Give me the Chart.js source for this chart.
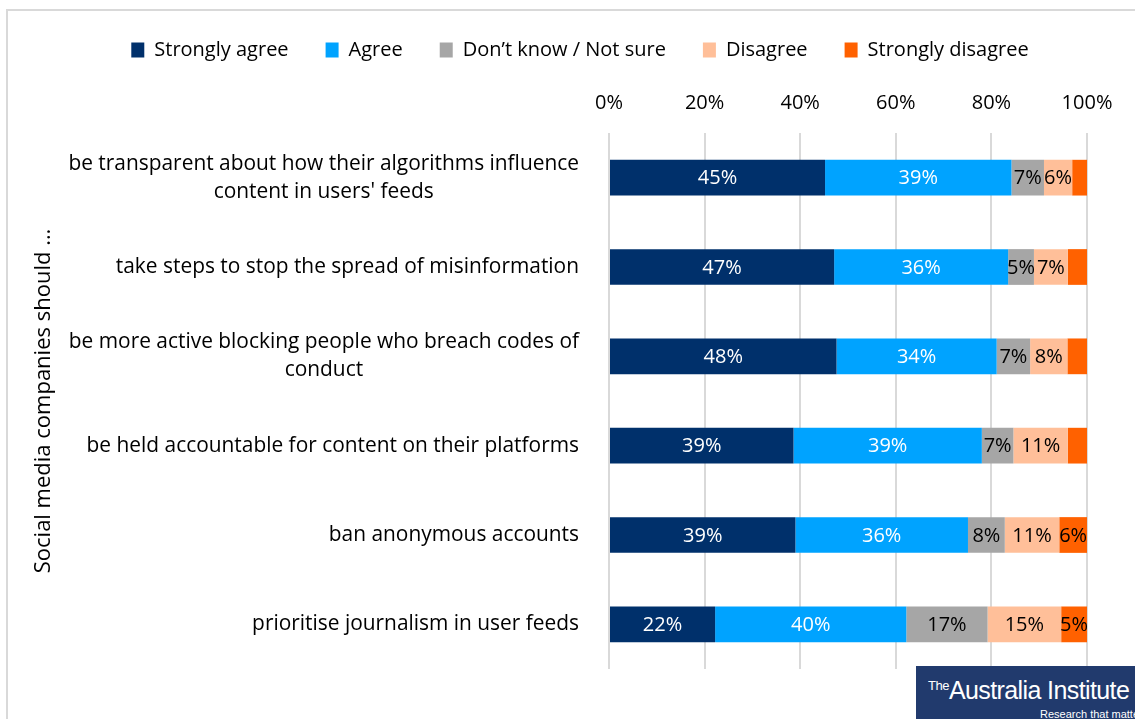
<!DOCTYPE html>
<html>
<head>
<meta charset="utf-8">
<script src="https://cdn.jsdelivr.net/npm/chart.js@4/dist/chart.umd.min.js"></script>
<style>
  html, body { margin: 0; padding: 0; background: #fff; }
  #wrap { position: relative; width: 1135px; height: 719px; overflow: hidden; }
  #frame { position: absolute; left: 6px; top: 9px; width: 1200px; height: 800px;
           border: 2px solid #d9d9d9; box-sizing: border-box; }
  canvas { position: absolute; left: 0; top: 0; }
  #logo { position: absolute; left: 916px; top: 666px; width: 219px; height: 60px;
          background: #213a6d; color: #fff; font-family: "Liberation Sans Narrow", "Liberation Sans", sans-serif; }
  #logo .main { position: absolute; left: 12px; top: 10px; font-size: 25px; letter-spacing: -0.6px; white-space: nowrap; }
  #logo .main sup { font-size: 13px; vertical-align: 9px; letter-spacing: -0.5px; }
  #logo .sub { position: absolute; left: 124px; top: 42px; font-size: 11px; white-space: nowrap; }
</style>
</head>
<body>
<div id="wrap">
  <div id="frame"></div>
  <canvas id="chart" width="1135" height="719"></canvas>
  <div id="logo"><div class="main"><sup>The</sup>Australia Institute</div><div class="sub">Research that matters</div></div>
</div>
<script>
const categories = [
  ["be transparent about how their algorithms influence", "content in users' feeds"],
  ["take steps to stop the spread of misinformation"],
  ["be more active blocking people who breach codes of", "conduct"],
  ["be held accountable for content on their platforms"],
  ["ban anonymous accounts"],
  ["prioritise journalism in user feeds"]
];
const seriesNames = ["Strongly agree", "Agree", "Don\u2019t know / Not sure", "Disagree", "Strongly disagree"];
const stronglyAgree    = [45.2, 47.1, 47.6, 38.6, 39.0, 22.2];
const agree            = [39.0, 36.4, 33.5, 39.4, 36.1, 40.0];
const dontKnow         = [6.8, 5.4, 7.0, 6.6, 7.7, 17.0];
const disagree         = [5.9, 7.1, 7.8, 11.4, 11.4, 15.4];
const stronglyDisagree = [3.1, 4.0, 4.1, 4.0, 5.8, 5.4];
const xTicks = [0, 20, 40, 60, 80, 100];

const colors = ["#00306b", "#00a3ff", "#a6a6a6", "#ffbf99", "#ff6100"];
const labelColors = ["#ffffff", "#ffffff", "#000000", "#000000", "#000000"];
const FONT = "'Open Sans', sans-serif";

const valueLabels = {
  id: "valueLabels",
  afterDatasetsDraw(chart) {
    const ctx = chart.ctx;
    ctx.save();
    ctx.font = "20px " + FONT;
    ctx.textAlign = "center";
    ctx.textBaseline = "middle";
    chart.data.datasets.forEach((ds, i) => {
      const meta = chart.getDatasetMeta(i);
      meta.data.forEach((bar, j) => {
        const v = ds.data[j];
        if (v < 4.5) return;
        const p = bar.getProps(["x", "y", "base"], true);
        ctx.fillStyle = labelColors[i];
        ctx.fillText(Math.round(v) + "%", (p.x + p.base) / 2, p.y + 1);
      });
    });
    ctx.restore();
  }
};

const categoryLabels = {
  id: "categoryLabels",
  afterDraw(chart) {
    const ctx = chart.ctx;
    const yScale = chart.scales.y;
    const right = 579;
    const lh = 28;
    ctx.save();
    ctx.font = "20.9px " + FONT;
    ctx.fillStyle = "#000000";
    ctx.textAlign = "center";
    ctx.textBaseline = "middle";
    categories.forEach((lines, i) => {
      const cy = yScale.getPixelForTick(i);
      const w = Math.max(...lines.map(l => ctx.measureText(l).width));
      const cx = right - w / 2;
      const y0 = cy - (lines.length - 1) * lh / 2;
      lines.forEach((l, k) => ctx.fillText(l, cx, y0 + k * lh));
    });
    ctx.restore();
  }
};

const series = [stronglyAgree, agree, dontKnow, disagree, stronglyDisagree];

new Chart(document.getElementById("chart").getContext("2d"), {
  type: "bar",
  data: {
    labels: categories.map(c => c.join(" ")),
    datasets: series.map((d, i) => ({
      label: seriesNames[i],
      data: d,
      backgroundColor: colors[i],
      borderWidth: 0,
      barPercentage: 1,
      categoryPercentage: 0.4
    }))
  },
  options: {
    indexAxis: "y",
    responsive: false,
    animation: false,
    layout: { padding: { left: 25, right: 0, top: 3, bottom: 50 } },
    plugins: {
      legend: {
        position: "top",
        labels: {
          boxWidth: 13,
          boxHeight: 15,
          padding: 37,
          color: "#000000",
          font: { family: FONT, size: 20 }
        }
      },
      tooltip: { enabled: false }
    },
    scales: {
      x: {
        position: "top",
        stacked: true,
        min: 0,
        max: 100,
        afterBuildTicks(scale) { scale.ticks = xTicks.map(v => ({ value: v })); },
        afterFit(scale) { scale.height = 133 - 3 - scale.chart.legend.height; },
        grid: { color: "#d9d9d9", lineWidth: 2, drawTicks: false },
        border: { display: false },
        ticks: {
          padding: 18,
          color: "#000000",
          font: { family: FONT, size: 20 },
          callback: v => v + "%"
        }
      },
      y: {
        stacked: true,
        grid: { display: false },
        border: { display: false },
        ticks: { display: false },
        afterFit(scale) { scale.width = 584; },
        title: {
          display: true,
          text: "Social media companies should \u2026",
          color: "#000000",
          font: { family: FONT, size: 22 },
          padding: { top: 6, bottom: 0 }
        }
      },
      y2: {
        position: "right",
        grid: { display: false },
        border: { display: false },
        ticks: { display: false },
        afterFit(scale) { scale.width = 48; }
      }
    }
  },
  plugins: [valueLabels, categoryLabels]
});
</script>
</body>
</html>
